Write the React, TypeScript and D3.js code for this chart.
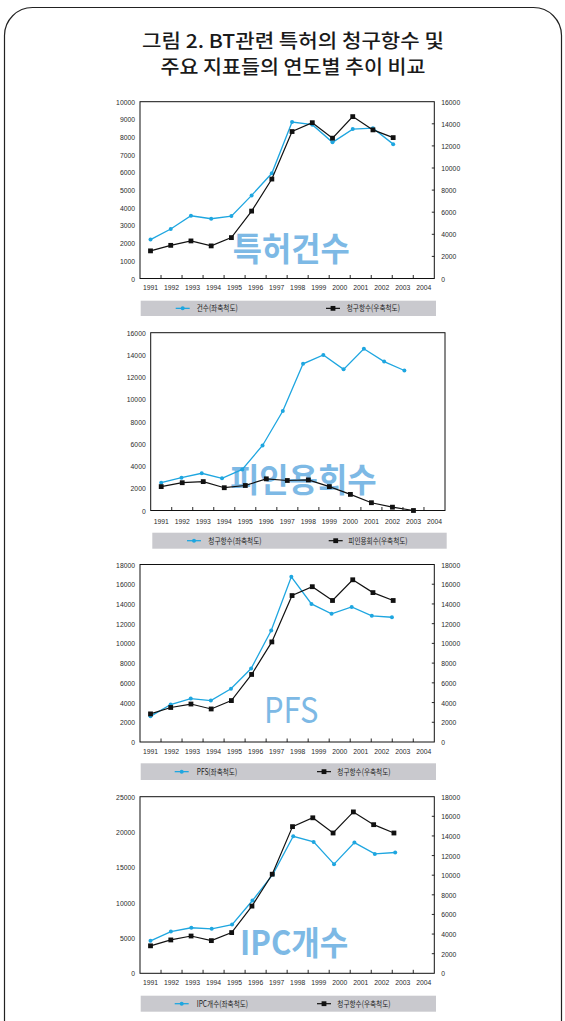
import React from "react";
import * as d3 from "d3";

// x축 눈금 라벨
const xYears = ["1991", "1992", "1993", "1994", "1995", "1996", "1997", "1998", "1999", "2000", "2001", "2002", "2003", "2004"];
// 데이터 연도 (1991~2003)
const pointYears = ["1991", "1992", "1993", "1994", "1995", "1996", "1997", "1998", "1999", "2000", "2001", "2002", "2003"];

// 패널 1: 특허건수 / 청구항수
const patentCount = [2200, 2800, 3550, 3380, 3530, 4700, 5950, 8850, 8700, 7700, 8450, 8500, 7600];
const claims1 = [2500, 3000, 3400, 2950, 3700, 6100, 9000, 13300, 14100, 12700, 14650, 13450, 12750];
// 패널 2: 청구항수 / 피인용회수
const claims2 = [2500, 2950, 3350, 2900, 3700, 5850, 8950, 13200, 14000, 12700, 14550, 13400, 12600];
const citations = [2150, 2500, 2600, 2050, 2250, 2850, 2700, 2750, 2150, 1450, 700, 300, 0];
// 패널 3: PFS / 청구항수
const pfsCount = [2600, 3800, 4400, 4200, 5400, 7450, 11300, 16750, 14000, 13000, 13700, 12800, 12650];
const claims3 = [2850, 3500, 3850, 3350, 4200, 6850, 10150, 14850, 15750, 14350, 16450, 15150, 14350];
// 패널 4: IPC개수 / 청구항수
const ipcCount = [4600, 5900, 6450, 6300, 6900, 10300, 14000, 19400, 18600, 15450, 18500, 16900, 17100];
const claims4 = [2800, 3400, 3800, 3330, 4150, 6850, 10100, 14950, 15850, 14300, 16450, 15150, 14300];

// 축 눈금
const ticks10k = [0, 1000, 2000, 3000, 4000, 5000, 6000, 7000, 8000, 9000, 10000];
const ticks16k = [0, 2000, 4000, 6000, 8000, 10000, 12000, 14000, 16000];
const ticks18k = [0, 2000, 4000, 6000, 8000, 10000, 12000, 14000, 16000, 18000];
const ticks25k = [0, 5000, 10000, 15000, 20000, 25000];

const titleLines = ["그림 2. BT관련 특허의 청구항수 및", "주요 지표들의 연도별 추이 비교"];

const BLUE = "#1ea6e0";
const WATER = "#7db9e5";
const GRAY = "#c9c9ce";
const FONT_NUM = "'Liberation Sans', Arial, sans-serif";
const FONT_KR = "'Noto Sans CJK KR', 'Noto Sans', sans-serif";

const panels = [
  {
    left: 140, right: 434.3, top: 101.7, bottom: 278.5,
    leftTicks: ticks10k, rightTicks: ticks16k,
    blue: patentCount, black: claims1,
    blueSpread: 0.962, blackSpread: 0.962,
    blueLabel: "건수(좌축척도)", blackLabel: "청구항수(우축척도)",
    watermark: "특허건수", wmX: 291.3, wmY: 261, wmW: 117, wmSize: 33,
    xLabelDy: 11.5,
    legend: { x0: 140.7, x1: 436, y0: 300.7, y1: 316, m1: 182.7, t1: 196.7, m2: 333, t2: 346.7 },
  },
  {
    left: 150.7, right: 445, top: 332.7, bottom: 510.5,
    leftTicks: ticks16k, rightTicks: null,
    blue: claims2, black: citations,
    blueSpread: 0.964, blackSpread: 1,
    blueLabel: "청구항수(좌축척도)", blackLabel: "피인용회수(우축척도)",
    watermark: "피인용회수", wmX: 303.3, wmY: 491.5, wmW: 146.7, wmSize: 33,
    xLabelDy: 13.5,
    legend: { x0: 152.3, x1: 446.7, y0: 532.7, y1: 548.7, m1: 194, t1: 208.3, m2: 335.7, t2: 348.3 },
  },
  {
    left: 140, right: 434.3, top: 564.5, bottom: 742,
    leftTicks: ticks18k, rightTicks: ticks18k,
    blue: pfsCount, black: claims3,
    blueSpread: 0.957, blackSpread: 0.962,
    blueLabel: "PFS(좌축척도)", blackLabel: "청구항수(우축척도)",
    watermark: "PFS", wmX: 291.2, wmY: 723.3, wmW: 54.3, wmSize: 35,
    xLabelDy: 11.7,
    legend: { x0: 140.7, x1: 436, y0: 763.3, y1: 780, m1: 181.7, t1: 196.7, m2: 324, t2: 337.3 },
  },
  {
    left: 140, right: 434.3, top: 796.7, bottom: 973.3,
    leftTicks: ticks25k, rightTicks: ticks18k,
    blue: ipcCount, black: claims4,
    blueSpread: 0.97, blackSpread: 0.965,
    blueLabel: "IPC개수(좌축척도)", blackLabel: "청구항수(우축척도)",
    watermark: "IPC개수", wmX: 294.2, wmY: 954.5, wmW: 108.3, wmSize: 33,
    xLabelDy: 12,
    legend: { x0: 140.7, x1: 436, y0: 995.7, y1: 1011.7, m1: 181.7, t1: 196.7, m2: 324, t2: 337.3 },
  },
];

const NUM_SIZE = 8;
const NUM_SX = 0.85;

function NumText({ x, y, anchor, children }: any) {
  return (
    <g transform={`translate(${x},${y}) scale(${NUM_SX},1)`}>
      <text fontFamily={FONT_NUM} fontSize={NUM_SIZE} fill="#2a2a2a" textAnchor={anchor}>
        {children}
      </text>
    </g>
  );
}

function Panel({ p }: any) {
  const xBand = d3.scaleBand().domain(xYears).range([p.left, p.right]);
  const step = xBand.step();
  const x0 = (xBand(xYears[0]) as number) + step / 2;
  const xBlue = d3.scalePoint().domain(pointYears).range([x0, x0 + step * 12 * p.blueSpread]);
  const xBlack = d3.scalePoint().domain(pointYears).range([x0, x0 + step * 12 * p.blackSpread]);

  const leftMax = p.leftTicks[p.leftTicks.length - 1];
  const rightMax = p.rightTicks ? p.rightTicks[p.rightTicks.length - 1] : leftMax;
  const yLeft = d3.scaleLinear().domain([0, leftMax]).range([p.bottom, p.top]);
  const yRight = d3.scaleLinear().domain([0, rightMax]).range([p.bottom, p.top]);

  const blueLine = d3
    .line<number>()
    .x((_, i) => xBlue(pointYears[i]) as number)
    .y((d) => yLeft(d));
  const blackLine = d3
    .line<number>()
    .x((_, i) => xBlack(pointYears[i]) as number)
    .y((d) => yRight(d));

  const lg = p.legend;
  const lgY = (lg.y0 + lg.y1) / 2;

  return (
    <g>
      {/* 배경 글씨 */}
      <text
        x={p.wmX}
        y={p.wmY}
        textAnchor="middle"
        fontFamily={`'Liberation Sans Narrow', ${FONT_KR}`}
        fontSize={p.wmSize}
        fontWeight={p.watermark === "PFS" ? 400 : 700}
        fill={WATER}
        textLength={p.wmW}
        lengthAdjust="spacingAndGlyphs"
      >
        {p.watermark}
      </text>

      {/* 틀 */}
      <rect x={p.left} y={p.top} width={p.right - p.left} height={p.bottom - p.top} fill="none" stroke="#111" strokeWidth={1} />

      {/* x축 눈금 */}
      {xYears.slice(1).map((yr) => (
        <line key={yr} x1={xBand(yr)} x2={xBand(yr)} y1={p.bottom} y2={p.bottom - 3.5} stroke="#111" strokeWidth={0.9} />
      ))}
      {xYears.map((yr) => (
        <NumText key={yr} x={(xBand(yr) as number) + step / 2} y={p.bottom + p.xLabelDy} anchor="middle">
          {yr}
        </NumText>
      ))}

      {/* 왼쪽 축 */}
      {p.leftTicks.map((t: number) => (
        <NumText key={t} x={p.left - 5} y={yLeft(t) + 3} anchor="end">
          {t}
        </NumText>
      ))}

      {/* 오른쪽 축 */}
      {p.rightTicks &&
        p.rightTicks.map((t: number) => (
          <g key={t}>
            {t > 0 && t < rightMax && (
              <line x1={p.right} x2={p.right - 2.5} y1={yRight(t)} y2={yRight(t)} stroke="#111" strokeWidth={0.9} />
            )}
            <NumText x={p.right + 7} y={yRight(t) + 3} anchor="start">
              {t}
            </NumText>
          </g>
        ))}

      {/* 선 */}
      <path d={blueLine(p.blue) as string} fill="none" stroke={BLUE} strokeWidth={1.3} />
      {p.blue.map((d: number, i: number) => (
        <circle key={i} cx={xBlue(pointYears[i])} cy={yLeft(d)} r={2} fill={BLUE} />
      ))}
      <path d={blackLine(p.black) as string} fill="none" stroke="#111" strokeWidth={1.2} />
      {p.black.map((d: number, i: number) => (
        <rect key={i} x={(xBlack(pointYears[i]) as number) - 2.4} y={yRight(d) - 2.4} width={4.8} height={4.8} fill="#111" />
      ))}

      {/* 범례 */}
      <rect x={lg.x0} y={lg.y0} width={lg.x1 - lg.x0} height={lg.y1 - lg.y0} fill={GRAY} />
      <line x1={lg.m1 - 7} x2={lg.m1 + 7} y1={lgY} y2={lgY} stroke={BLUE} strokeWidth={1.3} />
      <circle cx={lg.m1} cy={lgY} r={2} fill={BLUE} />
      <g transform={`translate(${lg.t1},${lgY + 3}) scale(0.78,1)`}>
        <text fontFamily={FONT_KR} fontSize={8.5} fill="#222">
          {p.blueLabel}
        </text>
      </g>
      <line x1={lg.m2 - 7} x2={lg.m2 + 7} y1={lgY} y2={lgY} stroke="#111" strokeWidth={1.2} />
      <rect x={lg.m2 - 2.4} y={lgY - 2.4} width={4.8} height={4.8} fill="#111" />
      <g transform={`translate(${lg.t2},${lgY + 3}) scale(0.78,1)`}>
        <text fontFamily={FONT_KR} fontSize={8.5} fill="#222">
          {p.blackLabel}
        </text>
      </g>
    </g>
  );
}

export default function App() {
  return (
    <svg
      width={565}
      height={1021}
      viewBox="0 0 565 1021"
      style={{ position: "absolute", left: 0, top: 0, background: "#fff" }}
    >
      <rect x={4.5} y={7.5} width={557} height={1060} rx={28} fill="none" stroke="#222" strokeWidth={1.2} />
      {titleLines.map((t, i) => (
        <text
          key={t}
          x={293}
          y={48 + i * 26}
          textAnchor="middle"
          fontFamily={FONT_KR}
          fontSize={19}
          fontWeight={500}
          fill="#1a1a1a"
          textLength={i === 0 ? 302 : 265}
          lengthAdjust="spacingAndGlyphs"
        >
          {t}
        </text>
      ))}
      {panels.map((p, i) => (
        <Panel key={i} p={p} />
      ))}
    </svg>
  );
}
